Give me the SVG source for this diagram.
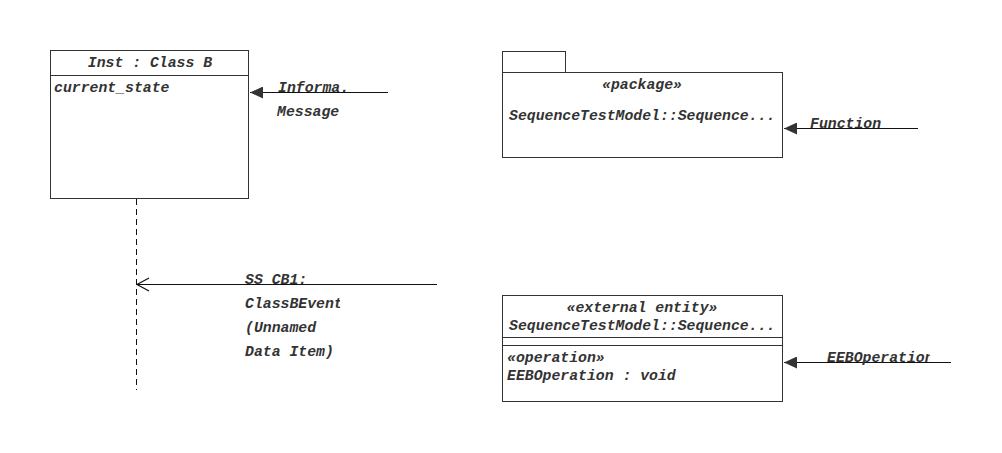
<svg xmlns="http://www.w3.org/2000/svg" width="1002" height="453" viewBox="0 0 1002 453">
<style>
text{font-family:"Liberation Mono","Courier New",monospace;font-size:14.8px;font-style:italic;font-weight:bold;fill:#333}
.box{fill:#fff;stroke:#333;stroke-width:1}
.ln{stroke:#111;stroke-width:1.2;fill:none}
.mid{text-anchor:middle}
</style>
<defs>
<marker id="filled" markerWidth="14" markerHeight="12" refX="13" refY="6" orient="auto" markerUnits="userSpaceOnUse">
<path d="M13,6 L0,0 L0,12 Z" fill="#333"/>
</marker>
<clipPath id="c1"><rect x="270" y="70" width="76" height="30"/></clipPath>
<clipPath id="c2"><rect x="800" y="110" width="86" height="30"/></clipPath>
<clipPath id="c3"><rect x="240" y="290" width="100" height="25"/></clipPath>
<clipPath id="c4"><rect x="820" y="345" width="110" height="25"/></clipPath>
</defs>
<rect width="1002" height="453" fill="#fff"/>
<g id="classB">
<rect class="box" x="50.5" y="50.5" width="198" height="148"/>
<line x1="50.5" y1="75.5" x2="248.5" y2="75.5" stroke="#333"/>
<text class="mid" x="150" y="67">Inst : Class B</text>
<text x="54" y="92">current_state</text>
</g>
<g id="package">
<rect class="box" x="502.5" y="51.5" width="63" height="21"/>
<rect class="box" x="502.5" y="72.5" width="280" height="85"/>
<text class="mid" x="642" y="89">«package»</text>
<text x="509" y="120">SequenceTestModel::Sequence...</text>
</g>
<g id="external">
<rect class="box" x="502.5" y="295.5" width="280" height="106"/>
<line x1="502.5" y1="337.5" x2="782.5" y2="337.5" stroke="#333"/>
<line x1="502.5" y1="345.5" x2="782.5" y2="345.5" stroke="#333"/>
<text class="mid" x="642" y="312">«external entity»</text>
<text x="509" y="330">SequenceTestModel::Sequence...</text>
<text x="507" y="362">«operation»</text>
<text x="507" y="380">EEBOperation : void</text>
</g>
<g id="connectors">
<line x1="136.5" y1="199" x2="136.5" y2="390" stroke="#111" stroke-dasharray="6,4"/>
<line class="ln" x1="388" y1="92.5" x2="250" y2="92.5" marker-end="url(#filled)"/>
<line class="ln" x1="918" y1="128.5" x2="784" y2="128.5" marker-end="url(#filled)"/>
<line class="ln" x1="951" y1="362.5" x2="784" y2="362.5" marker-end="url(#filled)"/>
<line class="ln" x1="437" y1="284.5" x2="137" y2="284.5"/>
<path class="ln" d="M149,278 L137,284.5 L149,291"/>
</g>
<g id="labels">
<text x="278" y="92" clip-path="url(#c1)">Informa.</text>
<text x="277" y="116">Message</text>
<text x="810" y="128" clip-path="url(#c2)">Function</text>
<text x="827" y="362" clip-path="url(#c4)">EEBOperation</text>
<text x="245" y="284">SS CB1:</text>
<text x="245" y="308" clip-path="url(#c3)">ClassBEvent</text>
<text x="245" y="332">(Unnamed</text>
<text x="245" y="356">Data Item)</text>
</g>
</svg>
